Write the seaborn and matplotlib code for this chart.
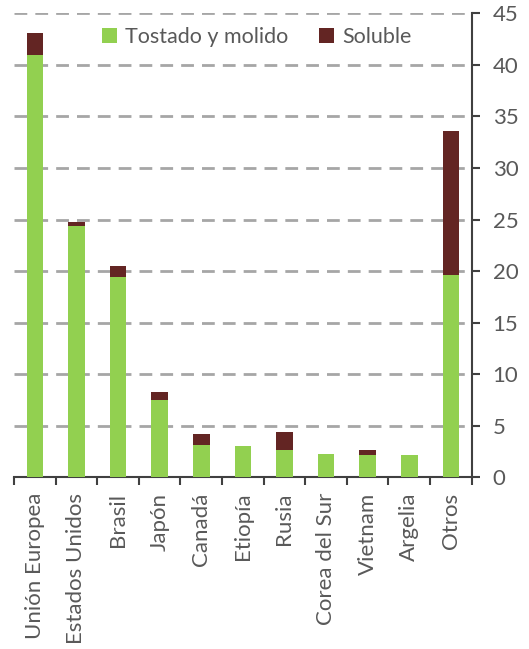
import matplotlib
matplotlib.use("Agg")
import matplotlib.pyplot as plt
import seaborn as sns
import pandas as pd
import numpy as np
from matplotlib.ticker import FixedLocator

categorias = ["Unión Europea", "Estados Unidos", "Brasil", "Japón", "Canadá",
              "Etiopía", "Rusia", "Corea del Sur", "Vietnam", "Argelia", "Otros"]
tostado = [41.0, 24.4, 19.4, 7.5, 3.1, 3.0, 2.6, 2.3, 2.2, 2.2, 19.6]
soluble = [2.1, 0.4, 1.1, 0.75, 1.1, 0.0, 1.8, 0.0, 0.4, 0.0, 14.0]
yticks = [0, 5, 10, 15, 20, 25, 30, 35, 40, 45]

sns.set_theme(style="white")
plt.rcParams['font.family'] = ['Lato', 'DejaVu Sans']
txt = "#595959"

df = pd.DataFrame({"cat": categorias, "tostado": tostado, "soluble": soluble})
df["total"] = df["tostado"] + df["soluble"]

fig = plt.figure(figsize=(5.29, 6.49), dpi=100)
ax = fig.add_axes([0.0265, 0.2646, 0.8652, 0.7149])

green = "#92D050"
red = "#632523"

for y in yticks[1:]:
    ax.axhline(y, color="#A6A6A6", lw=2.0, dashes=(4.6, 2.9), zorder=0)

sns.barplot(data=df, x="cat", y="total", color=red, width=0.4, ax=ax,
            saturation=1, label="Soluble", zorder=2, linewidth=0)
sns.barplot(data=df, x="cat", y="tostado", color=green, width=0.4, ax=ax,
            saturation=1, label="Tostado y molido", zorder=3, linewidth=0)

ax.set_xlim(-0.5, len(categorias) - 0.5)
ax.set_ylim(0, 45)
ax.set_xlabel("")
ax.set_ylabel("")

ax.yaxis.tick_right()
ax.set_yticks(yticks)
ax.tick_params(axis="y", which="major", right=True, left=False, length=6,
               width=1.5, color="#404040", labelsize=16, labelcolor=txt, pad=9)

ax.set_xticks(range(len(categorias)))
ax.set_xticklabels(categorias, rotation=90, fontsize=16, color=txt)
ax.tick_params(axis="x", which="major", length=0, pad=11)
ax.xaxis.set_minor_locator(FixedLocator(np.arange(-0.5, len(categorias), 1.0)))
ax.tick_params(axis="x", which="minor", bottom=True, length=6, width=1.5,
               color="#404040")

for s in ["top", "left"]:
    ax.spines[s].set_visible(False)
for s in ["right", "bottom"]:
    ax.spines[s].set_color("#404040")
    ax.spines[s].set_linewidth(1.5)

handles, labels = ax.get_legend_handles_labels()
order = [labels.index("Tostado y molido"), labels.index("Soluble")]
leg = ax.legend([handles[i] for i in order], [labels[i] for i in order],
                loc="upper center", bbox_to_anchor=(0.53, 1.012), ncol=2,
                frameon=False, fontsize=15.5, handlelength=0.7, handleheight=0.7,
                columnspacing=1.4, handletextpad=0.4)
for t in leg.get_texts():
    t.set_color(txt)

fig.savefig("out.png", dpi=100)
